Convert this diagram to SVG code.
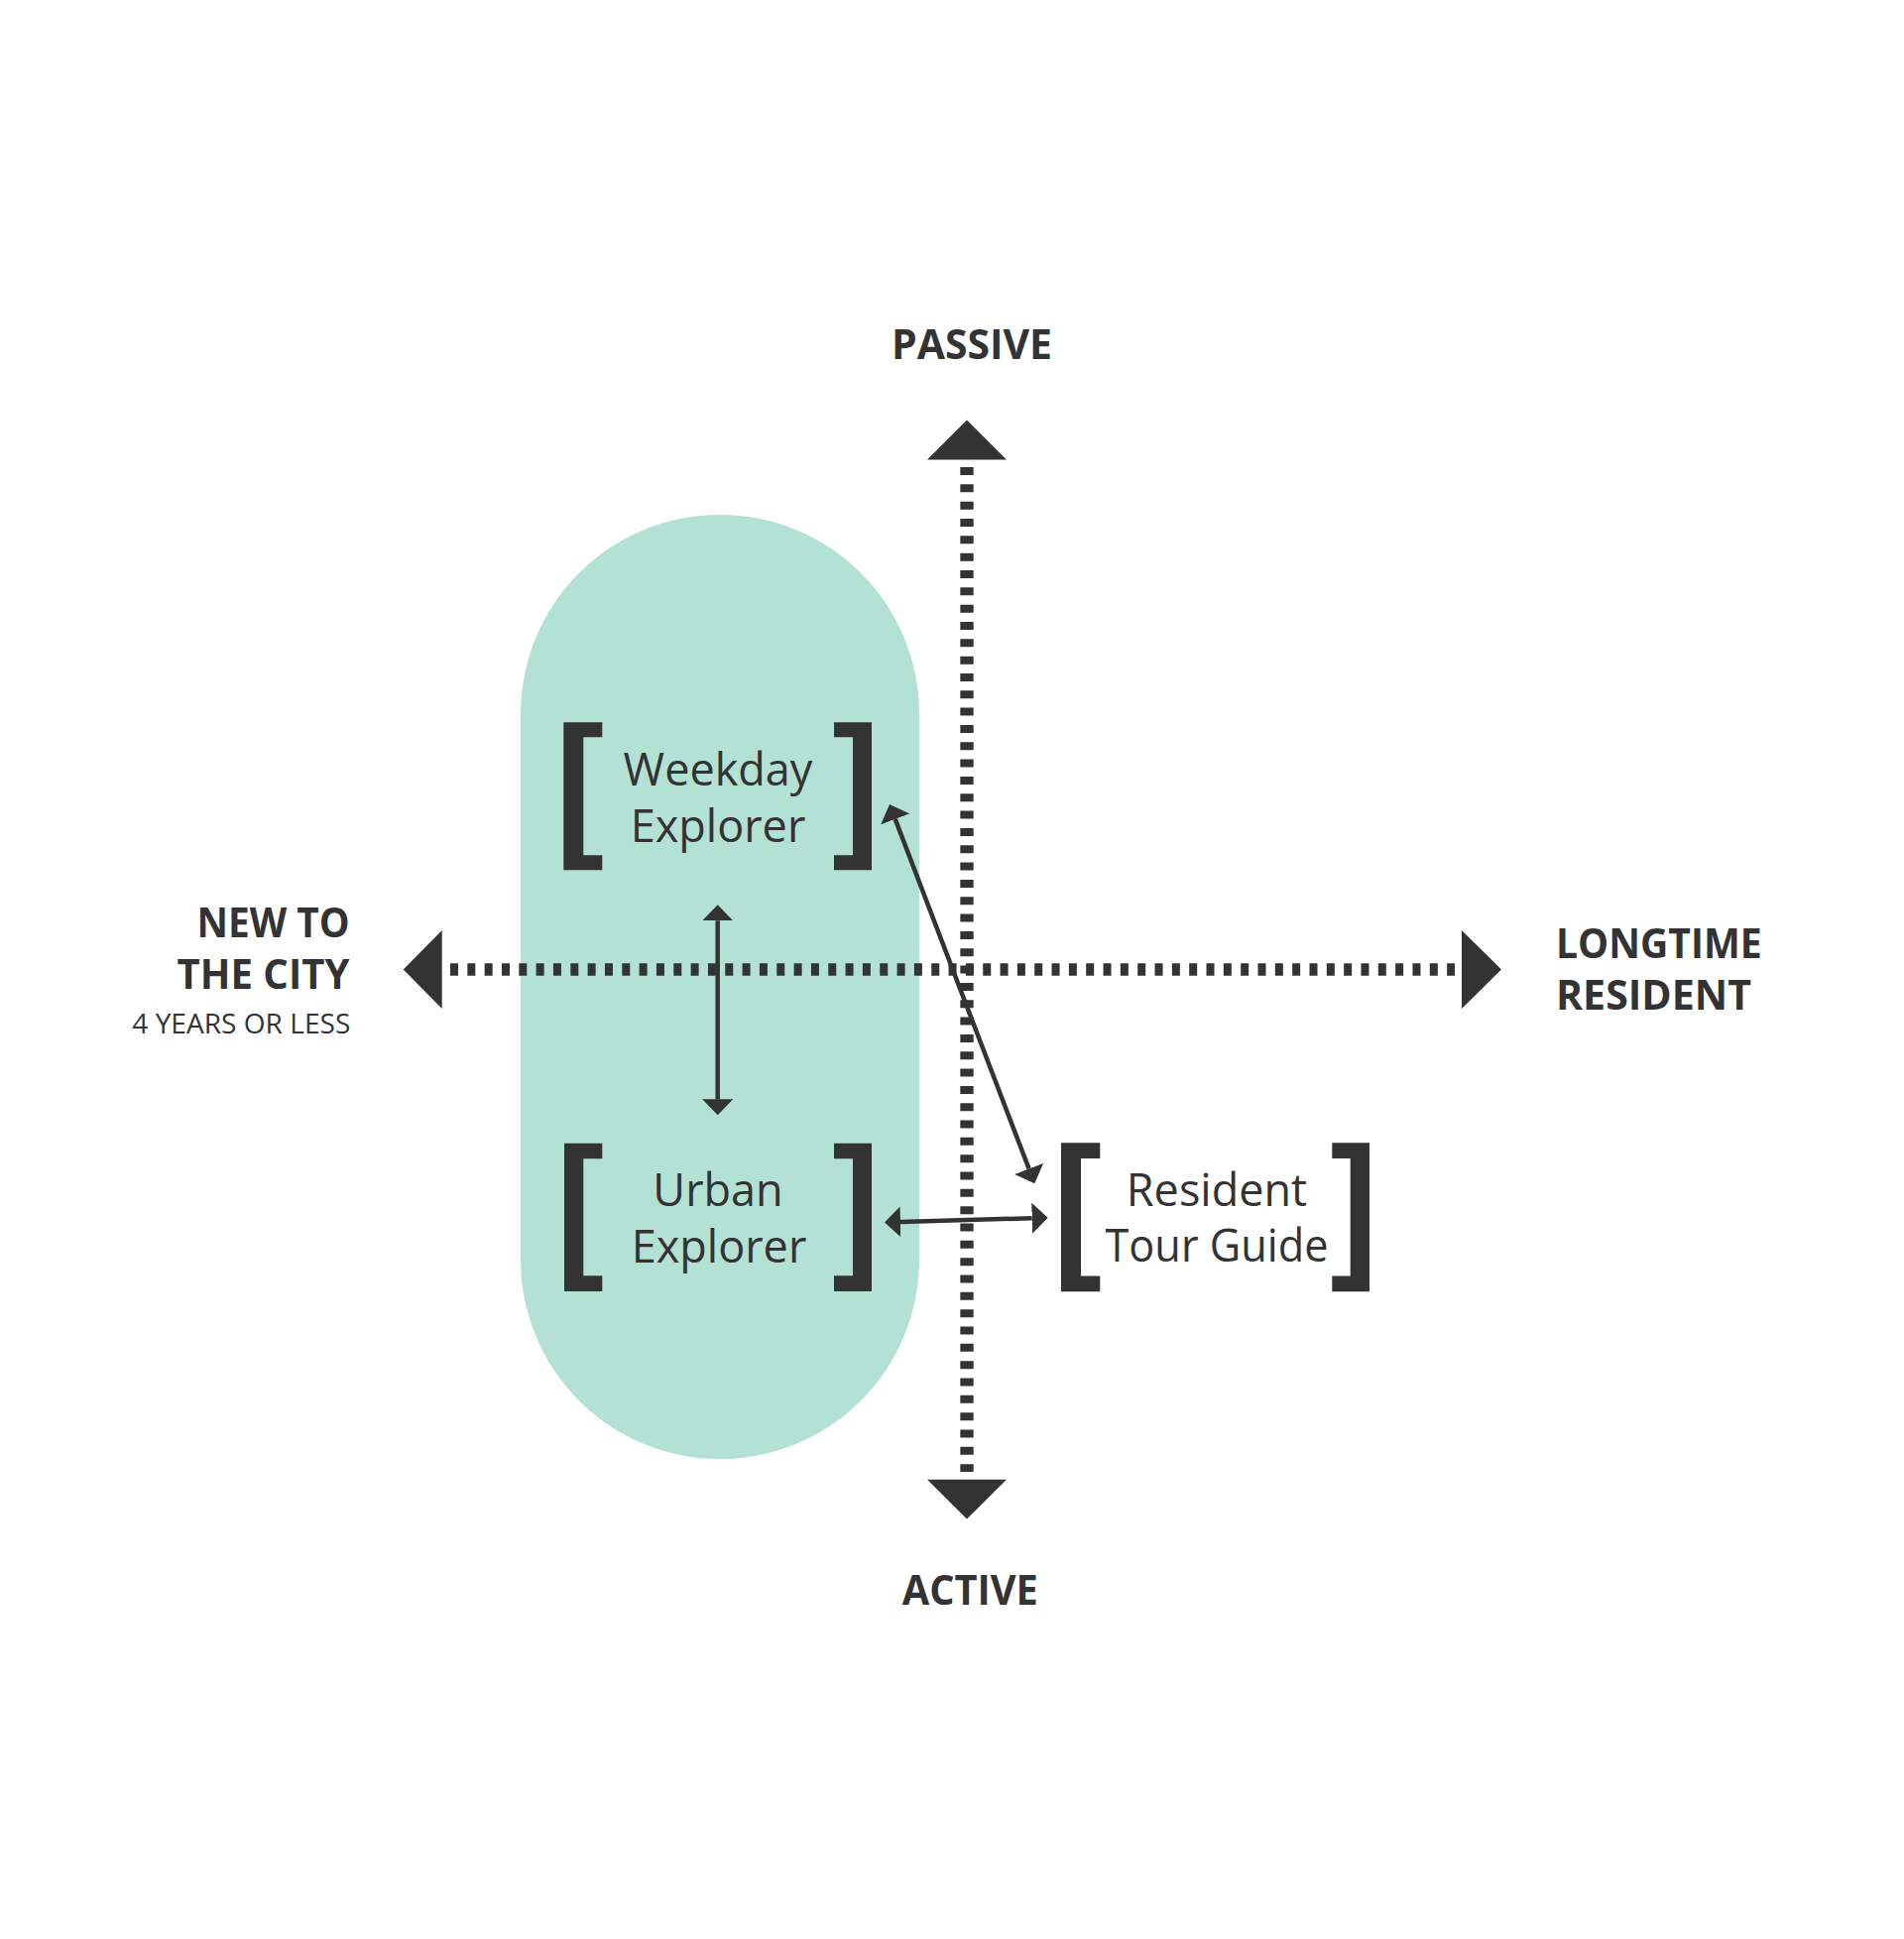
<svg xmlns="http://www.w3.org/2000/svg" width="1920" height="1955" viewBox="0 0 1920 1955">
<style>
.lbl{font-family:"Open Sans","Noto Sans","DejaVu Sans",sans-serif;fill:#333333;}
.node{font-size:45px;font-weight:400;text-anchor:middle;}
.axis{font-size:41px;font-weight:700;}
.sub{font-size:28px;font-weight:400;}
.br{fill:#333333;}
.dash{stroke:#333333;fill:none;stroke-dasharray:8 9.33;}
.arr{stroke:#333333;stroke-width:4.5;fill:none;marker-start:url(#ah);marker-end:url(#ah);}
.tri{fill:#333333;}
</style>
<defs>
<marker id="ah" viewBox="0 -16 16 32" refX="0" refY="0" markerWidth="16" markerHeight="32" markerUnits="userSpaceOnUse" orient="auto-start-reverse">
<path d="M0,-15.5 L16,0 L0,15.5 Z" fill="#333333"/>
</marker>
</defs>
<rect width="1920" height="1955" fill="#ffffff"/>
<g id="newcomer-zone">
<rect x="525" y="519" width="402" height="952" rx="201" ry="201" fill="#b3e1d3"/>
</g>
<g id="connectors">
<line class="dash" x1="975" y1="471" x2="975" y2="1484" stroke-width="13.3"/>
<line class="dash" x1="454" y1="977.5" x2="1467" y2="977.5" stroke-width="12.5"/>
<polygon class="tri" points="975,423.5 935,463.5 1015,463.5"/>
<polygon class="tri" points="935,1491.7 1015,1491.7 975,1531.6"/>
<polygon class="tri" points="406.7,977.5 445.7,938 445.7,1017"/>
<polygon class="tri" points="1474,938 1474,1017 1514,977.5"/>
<line class="arr" x1="723.7" y1="928.3" x2="723.7" y2="1108.3"/>
<line class="arr" x1="908" y1="1232" x2="1040.7" y2="1228.2"/>
<line class="arr" x1="902.7" y1="825.9" x2="1037.6" y2="1178.4"/>
</g>
<g id="weekday-explorer">
<path class="br" d="M568.3,728.3 H607.3 V743.3 H588.3 V862.3 H607.3 V877.3 H568.3 Z"/>
<path class="br" d="M879,728.3 H841 V743.3 H860 V862.3 H841 V877.3 H879 Z"/>
<text class="lbl node" x="724" y="792">Weekday</text>
<text class="lbl node" x="724" y="849">Explorer</text>
</g>
<g id="urban-explorer">
<path class="br" d="M569,1152.7 H607.3 V1168.3 H588.3 V1286.3 H607.3 V1302 H569 Z"/>
<path class="br" d="M879,1152.7 H841 V1168.3 H860 V1286.3 H841 V1302 H879 Z"/>
<text class="lbl node" x="724" y="1216">Urban</text>
<text class="lbl node" x="725" y="1273.3">Explorer</text>
</g>
<g id="resident-tour-guide">
<path class="br" d="M1070,1152.3 H1109.3 V1168 H1090 V1286.5 H1109.3 V1302.3 H1070 Z"/>
<path class="br" d="M1381,1152.3 H1343.3 V1168 H1361.7 V1286.5 H1343.3 V1302.3 H1381 Z"/>
<text class="lbl node" x="1227" y="1215.5">Resident</text>
<text class="lbl node" x="1227" y="1272" textLength="225" lengthAdjust="spacingAndGlyphs">Tour Guide</text>
</g>
<g id="label-passive">
<text class="lbl axis" x="980" y="361.7" text-anchor="middle" textLength="162" lengthAdjust="spacingAndGlyphs">PASSIVE</text>
</g>
<g id="label-active">
<text class="lbl axis" x="978.3" y="1617.7" text-anchor="middle" textLength="137" lengthAdjust="spacingAndGlyphs">ACTIVE</text>
</g>
<g id="label-new">
<text class="lbl axis" x="352.5" y="945" text-anchor="end" textLength="154" lengthAdjust="spacingAndGlyphs">NEW TO</text>
<text class="lbl axis" x="352.5" y="997.3" text-anchor="end" textLength="174" lengthAdjust="spacingAndGlyphs">THE CITY</text>
<text class="lbl sub" x="353.3" y="1041.7" text-anchor="end" textLength="220" lengthAdjust="spacingAndGlyphs">4 YEARS OR LESS</text>
</g>
<g id="label-longtime">
<text class="lbl axis" x="1569" y="965.7" textLength="207.7" lengthAdjust="spacingAndGlyphs">LONGTIME</text>
<text class="lbl axis" x="1569" y="1018.3" textLength="197" lengthAdjust="spacingAndGlyphs">RESIDENT</text>
</g>
</svg>
